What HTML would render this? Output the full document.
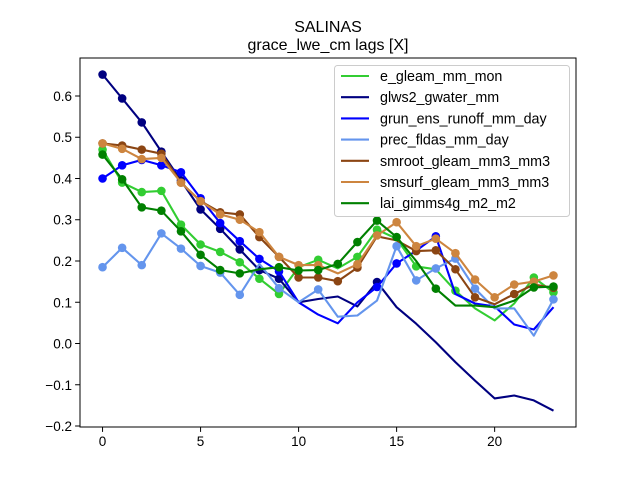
<!DOCTYPE html>
<html><head><meta charset="utf-8"><style>
body{margin:0;background:#fff;}
svg{display:block;font-family:"Liberation Sans","DejaVu Sans",sans-serif;}
</style></head><body>
<svg id="chart" width="640" height="480" xmlns="http://www.w3.org/2000/svg">
<rect width="640" height="480" fill="#fff"/>
<text x="328" y="32" text-anchor="middle" font-size="16">SALINAS</text>
<text x="328" y="50" text-anchor="middle" font-size="16">grace_lwe_cm lags [X]</text>
<g id="plot"></g>
</svg>
<script>
const lags=[0,1,2,3,4,5,6,7,8,9,10,11,12,13,14,15,16,17,18,19,20,21,22,23];
const seriesNames=["e_gleam_mm_mon","glws2_gwater_mm","grun_ens_runoff_mm_day","prec_fldas_mm_day","smroot_gleam_mm3_mm3","smsurf_gleam_mm3_mm3","lai_gimms4g_m2_m2"];
const eGleam=[0.47,0.39,0.367,0.37,0.288,0.24,0.222,0.197,0.157,0.12,0.185,0.203,0.182,0.21,0.276,0.254,0.187,0.18,0.128,0.085,0.056,0.097,0.16,0.124];
const glws2=[0.652,0.594,0.536,0.465,0.395,0.325,0.278,0.228,0.178,0.157,0.10,0.108,0.114,0.09,0.149,0.088,0.048,0.003,-0.045,-0.09,-0.133,-0.126,-0.138,-0.163];
const grun=[0.40,0.432,0.445,0.432,0.415,0.352,0.292,0.248,0.205,0.175,0.10,0.07,0.049,0.10,0.137,0.194,0.225,0.26,0.12,0.097,0.09,0.046,0.034,0.088];
const prec=[0.185,0.232,0.19,0.267,0.23,0.188,0.172,0.118,0.193,0.134,0.10,0.131,0.065,0.068,0.104,0.236,0.153,0.182,0.206,0.133,0.085,0.085,0.019,0.107];
const smroot=[0.485,0.48,0.47,0.46,0.39,0.345,0.318,0.313,0.258,0.21,0.16,0.16,0.151,0.184,0.26,0.25,0.224,0.226,0.18,0.112,0.095,0.12,0.143,0.135];
const smsurf=[0.485,0.472,0.447,0.45,0.39,0.345,0.313,0.30,0.27,0.21,0.19,0.19,0.17,0.192,0.262,0.294,0.236,0.254,0.219,0.155,0.112,0.143,0.15,0.165];
const lai=[0.458,0.398,0.33,0.322,0.272,0.215,0.178,0.17,0.18,0.185,0.177,0.178,0.193,0.246,0.298,0.258,0.20,0.133,0.092,0.092,0.088,0.104,0.136,0.138];
const mkE=[1,1,1,1,1,1,1,1,1,1,0,1,0,1,1,0,1,0,1,0,0,0,1,1];
const mkG=[1,1,1,1,1,1,1,1,1,1,0,0,0,0,1,0,0,0,0,0,0,0,0,0];
const mkR=[1,1,1,1,1,1,1,1,1,1,0,0,0,0,1,1,0,1,0,0,0,0,0,0];
const mkP=[1,1,1,1,1,1,1,1,0,1,0,1,0,0,0,1,1,1,1,1,0,0,0,1];
const mkS=[1,1,1,1,1,1,1,1,1,1,1,1,1,1,0,0,1,1,1,1,0,1,0,1];
const mkU=[1,1,1,1,1,1,1,1,1,1,1,1,0,1,1,1,1,1,1,1,1,1,1,1];
const mkL=[1,1,1,1,1,1,1,1,0,1,1,1,1,1,1,1,0,1,0,0,0,0,1,1];
const xTicks=[0,5,10,15,20];
const yTicks=[-0.2,-0.1,0.0,0.1,0.2,0.3,0.4,0.5,0.6];

const L=80,R=576,T=58,B=427;
const xMin=-1.15,xMax=24.15,yMin=-0.2024,yMax=0.6921;
const sx=v=>L+(v-xMin)/(xMax-xMin)*(R-L);
const sy=v=>B-(v-yMin)/(yMax-yMin)*(B-T);
const NS="http://www.w3.org/2000/svg";
const g=document.getElementById('plot');
function mk(tag,attrs,parent){const e=document.createElementNS(NS,tag);for(const k in attrs)e.setAttribute(k,attrs[k]);(parent||g).appendChild(e);return e;}

const series=[
 {vals:eGleam,mk:mkE,color:"#32CD32"},
 {vals:glws2,mk:mkG,color:"#000080"},
 {vals:grun,mk:mkR,color:"#0000FF"},
 {vals:prec,mk:mkP,color:"#6495ED"},
 {vals:smroot,mk:mkS,color:"#8B4513"},
 {vals:smsurf,mk:mkU,color:"#CD853F"},
 {vals:lai,mk:mkL,color:"#008000"}
];
series.forEach((s,i)=>{
 const grp=mk('g',{});
 
 
 const pts=lags.map((x,j)=>sx(x).toFixed(1)+','+sy(s.vals[j]).toFixed(1)).join(' ');
 const pl=mk('polyline',{points:pts,fill:'none',stroke:s.color,'stroke-width':2.1,'stroke-linejoin':'round'},grp);
 
 
 lags.forEach((x,j)=>{
  if(!s.mk[j])return;
  const c=mk('circle',{cx:sx(x),cy:sy(s.vals[j]),r:4.3,fill:s.color},grp);
  
  
 });
});
const fr=mk('rect',{x:L,y:T,width:R-L,height:B-T,fill:'none',stroke:'#000','stroke-width':1});


xTicks.forEach(t=>{
 const x=sx(t);
 const tk=mk('line',{x1:x,x2:x,y1:B,y2:B+4.9,stroke:'#000','stroke-width':1});
 
 
 const tx=mk('text',{x:x,y:B+19,'text-anchor':'middle','font-size':13.5});
 tx.textContent=t;
 
 
});
yTicks.forEach(t=>{
 const y=sy(t);
 const tk=mk('line',{x1:L-4.9,x2:L,y1:y,y2:y,stroke:'#000','stroke-width':1});
 
 
 const tx=mk('text',{x:L-8,y:y+5,'text-anchor':'end','font-size':13.5});
 tx.textContent=(t<0?'\u2212':'')+Math.abs(t).toFixed(1);
 
 
});
const lg=mk('g',{});


mk('rect',{x:334.5,y:65.5,width:235,height:151,rx:3,fill:'#fff','fill-opacity':0.8,stroke:'#ccc','stroke-width':1},lg);
series.forEach((s,i)=>{
 const y=76+i*21.2;
 const e=mk('g',{},lg);
 
 
 mk('line',{x1:341,x2:369,y1:y,y2:y,stroke:s.color,'stroke-width':2.1},e);
 const t=mk('text',{x:380,y:y+5,'font-size':14.3},e);
 t.textContent=seriesNames[i];
});
</script>
</body></html>
